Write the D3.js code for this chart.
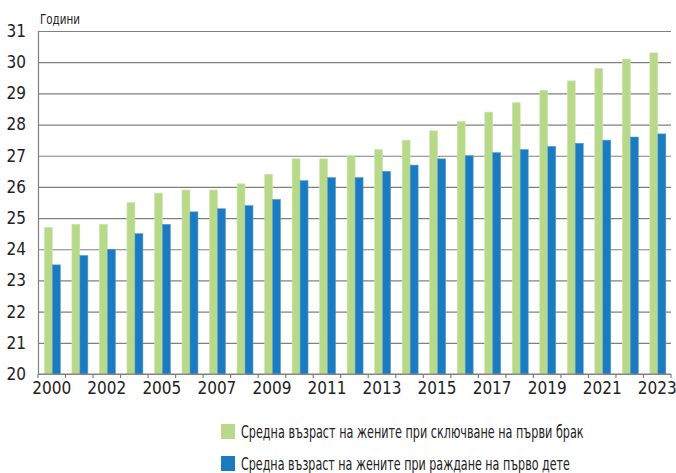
<!DOCTYPE html>
<html>
<head>
<meta charset="utf-8">
<script src="https://cdn.jsdelivr.net/npm/d3@7"></script>
<style>
  body { margin: 0; background: #fff; }
  svg text { font-family: "DejaVu Sans Condensed", "Liberation Sans Narrow", sans-serif; font-stretch: condensed; fill: #222; }
  svg text.narrow { font-family: "Liberation Sans Narrow", "DejaVu Sans Condensed", sans-serif; }
</style>
</head>
<body>
<svg id="chart"></svg>
<script>
// data
var years = ["2000", "2001", "2002", "2003", "2005", "2006", "2007", "2008", "2009", "2010", "2011",
    "2012", "2013", "2014", "2015", "2016", "2017", "2018", "2019", "2020", "2021", "2022", "2023"];
var marriageAge = [24.7, 24.8, 24.8, 25.5, 25.8, 25.9, 25.9, 26.1, 26.4, 26.9, 26.9,
    27.0, 27.2, 27.5, 27.8, 28.1, 28.4, 28.7, 29.1, 29.4, 29.8, 30.1, 30.3];
var birthAge = [23.5, 23.8, 24.0, 24.5, 24.8, 25.2, 25.3, 25.4, 25.6, 26.2, 26.3,
    26.3, 26.5, 26.7, 26.9, 27.0, 27.1, 27.2, 27.3, 27.4, 27.5, 27.6, 27.7];
var seriesNames = ["Средна възраст на жените при сключване на първи брак",
    "Средна възраст на жените при раждане на първо дете"];
var seriesColors = ["#b9d98a", "#1a7bc1"];
var yTicks = [20, 21, 22, 23, 24, 25, 26, 27, 28, 29, 30, 31];

const chartW = 676,
    chartH = 473,
    plotL = 38,
    plotR = 671,
    plotT = 31,
    plotB = 374,
    gridColor = "#808080";

var svg = d3.select("#chart")
    .attr("width", chartW)
    .attr("height", chartH);

var xScale = d3.scaleBand().domain(years).range([plotL, plotR]);
var xSub = d3.scaleBand().domain([0, 1])
    .range([0, xScale.bandwidth() * 0.58]);
var subOffset = (xScale.bandwidth() - xSub.range()[1]) / 2 + 0.6;
var yScale = d3.scaleLinear().domain([20, 31]).range([plotB, plotT]);

// gridlines
svg.append("g")
    .attr("transform", "translate(" + plotL + ",0)")
    .call(d3.axisLeft(yScale).tickValues(yTicks).tickSize(-(plotR - plotL)).tickFormat(""))
    .call(function(g) {
        g.select(".domain").remove();
        g.selectAll("line").attr("stroke", gridColor).attr("stroke-width", 1.2);
    });

// bars
var rows = years.map(function(y, i) { return {year: y, values: [marriageAge[i], birthAge[i]]}; });
svg.append("g")
    .selectAll("g")
    .data(rows)
    .enter()
    .append("g")
    .attr("transform", function(d) { return "translate(" + (xScale(d.year) + subOffset) + ",0)"; })
    .selectAll("rect")
    .data(function(d) { return d.values; })
    .enter()
    .append("rect")
    .attr("x", function(d, i) { return xSub(i); })
    .attr("width", xSub.bandwidth())
    .attr("y", function(d) { return yScale(d); })
    .attr("height", function(d) { return yScale(20) - yScale(d); })
    .attr("fill", function(d, i) { return seriesColors[i]; })
    .attr("stroke", function(d, i) { return i === 0 ? "#cde6ab" : "#5a9fd4"; })
    .attr("stroke-width", 0.6);

// y axis
svg.append("g")
    .attr("transform", "translate(" + plotL + ",0)")
    .call(d3.axisLeft(yScale).tickValues(yTicks).tickSize(0).tickPadding(12))
    .call(function(g) {
        g.select(".domain").attr("stroke", gridColor).attr("stroke-width", 1.2);
        g.selectAll("text").attr("font-size", 17).attr("fill", "#222");
    });

// x axis
var xAxis = svg.append("g")
    .attr("transform", "translate(0," + plotB + ")")
    .call(d3.axisBottom(xScale).tickSize(0).tickPadding(8)
        .tickFormat(function(d, i) { return i % 2 === 0 ? d : ""; }))
    .call(function(g) {
        g.select(".domain").remove();
        g.selectAll("text").attr("font-size", 17).attr("fill", "#222");
    });
xAxis.append("line")
    .attr("x1", plotL).attr("x2", plotR)
    .attr("stroke", gridColor).attr("stroke-width", 1.2);
xAxis.selectAll(".bound")
    .data(years.concat(["end"]))
    .enter()
    .append("line")
    .attr("class", "bound")
    .attr("x1", function(d, i) { return plotL + i * xScale.bandwidth(); })
    .attr("x2", function(d, i) { return plotL + i * xScale.bandwidth(); })
    .attr("y1", 0).attr("y2", 4)
    .attr("stroke", gridColor).attr("stroke-width", 1.2);

// squeeze a text horizontally to a target width
function squeeze(sel, x, y, targetW) {
    sel.each(function(d, i) {
        var w = this.getComputedTextLength();
        var tw = typeof targetW === "function" ? targetW(d, i) : targetW;
        var sx = w > 0 ? Math.min(1, tw / w) : 1;
        d3.select(this).attr("transform", "translate(" + x + "," + y + ") scale(" + sx + ",1)");
    });
}

// unit label
svg.append("text")
    .attr("class", "narrow")
    .attr("font-size", 14)
    .text("Години")
    .call(squeeze, 40, 24, 40);

// legend
var legendLen = [343, 329];
var legend = svg.append("g")
    .selectAll("g")
    .data(seriesNames)
    .enter()
    .append("g")
    .attr("transform", function(d, i) { return "translate(221," + (424 + i * 32) + ")"; });
legend.append("rect")
    .attr("width", 14).attr("height", 15)
    .attr("fill", function(d, i) { return seriesColors[i]; });
legend.append("text")
    .attr("class", "narrow")
    .attr("font-size", 18)
    .text(function(d) { return d; })
    .call(squeeze, 20, 13.5, function(d, i) { return legendLen[i]; });
</script>
</body>
</html>
